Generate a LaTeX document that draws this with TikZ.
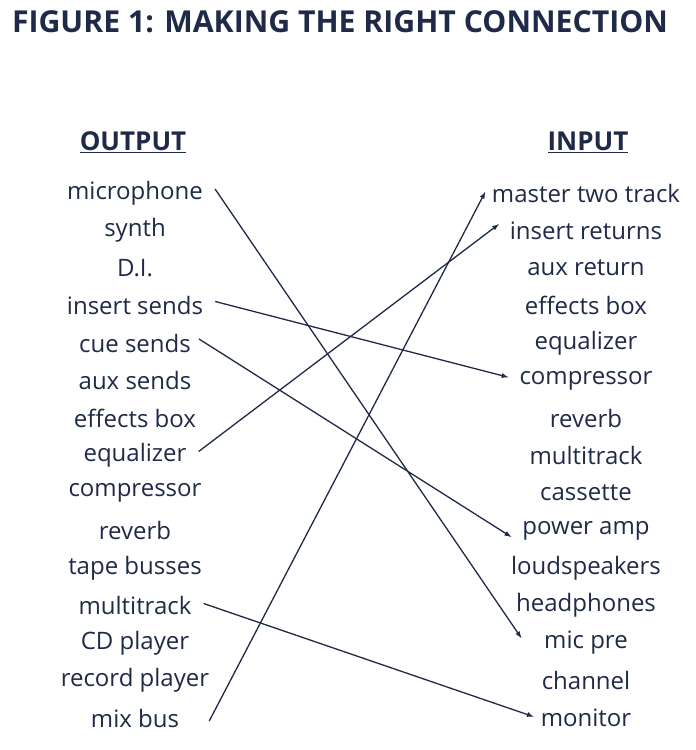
\documentclass[tikz,border=0pt]{standalone}
\usepackage{fontspec}
\setmainfont{Open Sans}
\usetikzlibrary{arrows}
\definecolor{navy}{HTML}{1E2A47}
\begin{document}
\begin{tikzpicture}[>=latex,x=1pt,y=-1pt,font=\fontsize{24}{28}\selectfont,
  every node/.style={text=navy},
  item/.style={inner sep=0pt, anchor=center},
  conn/.style={->, navy, line width=1.3pt, shorten >=1pt}]

\useasboundingbox (0,0) rectangle (696,750);

\node[item] (title) at (340,22) {\resizebox{656pt}{!}{\bfseries FIGURE 1: MAKING THE RIGHT CONNECTION}};

\node[item, font=\fontsize{26}{30}\selectfont\bfseries] (out) at (133,142) {\underline{OUTPUT}};
\node[item, font=\fontsize{26}{30}\selectfont\bfseries] (in) at (588,142) {\underline{INPUT}};

% left column
\foreach \t [count=\i] in {microphone,synth,D.I.,insert sends,cue sends,aux sends,effects box,equalizer,compressor,reverb,tape busses,multitrack,CD player,record player,mix bus}
  \node[item] (l\i) at (135,{193+37.5*(\i-1)}) {\t};

% right column
\foreach \t [count=\i] in {master two track,insert returns,aux return,effects box,equalizer,compressor,reverb,multitrack,cassette,power amp,loudspeakers,headphones,mic pre,channel,monitor}
  \node[item] (r\i) at (586,{193+37.5*(\i-1)}) {\t};

\draw[conn] ([xshift=12pt,yshift=4pt]l1.east) -- ([xshift=-22pt,yshift=4pt]r13.west);
\draw[conn] ([xshift=12pt,yshift=4pt]l4.east) -- ([xshift=-10pt,yshift=3pt]r6.west);
\draw[conn] ([xshift=8pt,yshift=4pt]l5.east) -- ([xshift=-10pt,yshift=-7pt]r10.west);
\draw[conn] ([xshift=12pt,yshift=4pt]l8.east) -- ([xshift=-10pt,yshift=7pt]r2.west);
\draw[conn] ([xshift=12pt,yshift=2pt]l12.east) -- ([xshift=-6pt,yshift=1pt]r15.west);
\draw[conn] ([xshift=30pt,yshift=-3pt]l15.east) -- ([xshift=-6pt,yshift=2pt]r1.west);

\end{tikzpicture}
\end{document}
